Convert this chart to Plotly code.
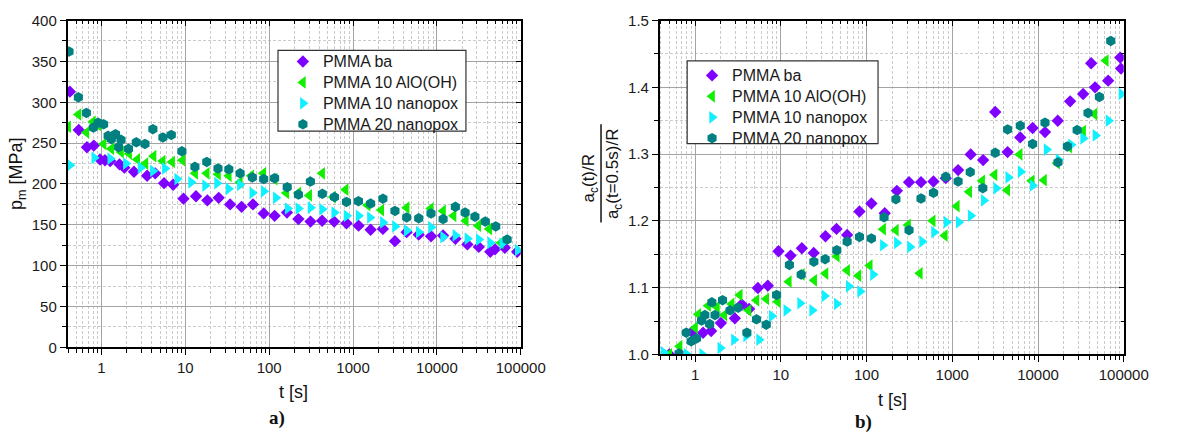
import math
import plotly.graph_objects as go

# ---------------- data (panel a: indentation pressure) ----------------
ba_t_a = [0.42, 0.535, 0.67, 0.81, 0.96, 1.1, 1.27, 1.64, 1.87, 2.44, 3.5, 4.37, 5.57, 7.15, 9.5,
          13.4, 18.3, 25, 34.2, 46.8, 64, 86, 116, 163, 223, 311, 428, 596, 836, 1164, 1620, 2270,
          3160, 4360, 6070, 8510, 11850, 16640, 23100, 31600, 43300, 49400, 64600, 90600]
ba_p_a = [313, 266, 245, 247, 230, 229, 228, 224, 220, 215, 210, 213, 201, 199, 182,
          185, 180, 183, 175, 172, 175, 164, 161, 165, 157, 154, 155, 154, 152, 149, 144, 145,
          130, 141, 138, 136, 137, 133, 126, 123, 117, 120, 122, 117]

alo_t_a = [0.40, 0.53, 0.66, 0.79, 0.92, 1.06, 1.31, 1.71, 2.14, 2.67, 3.34, 4.18, 5.37, 6.96, 9.2,
           13.1, 18, 24.5, 33, 44.7, 61, 85, 116, 160, 223, 300, 428, 580, 815, 1490,
           2170, 4360, 8440, 11850, 15800, 22100, 31100, 42000, 58000]
alo_p_a = [270, 285, 263, 276, 272, 249, 243, 239, 237, 230, 225, 234, 228, 227, 229,
           213, 213, 212, 210, 202, 210, 213, 206, 189, 189, 186, 213, 184, 193, 174,
           168, 171, 170, 167, 161, 155, 149, 145, 128]

n10_t_a = [0.42, 0.82, 1.27, 1.95, 2.92, 4.1, 5.7, 8.0, 11.7, 17.2, 23.9, 32.7, 44.7, 62.8, 86,
           120, 166, 223, 311, 428, 596, 836, 1164, 1590, 2270, 3160, 4370, 6070, 8510, 11850,
           16600, 23100, 31600, 43300, 60100, 92000]
n10_p_a = [223, 232, 231, 225, 220, 216, 219, 206, 202, 198, 201, 194, 199, 189, 191,
           183, 170, 170, 171, 169, 165, 161, 161, 159, 153, 148, 143, 141, 147, 135,
           137, 133, 132, 128, 127, 119]

n20_t_a = [0.41, 0.53, 0.66, 0.80, 0.91, 1.06, 1.20, 1.31, 1.47, 1.60, 1.71, 2.1, 2.6, 3.3, 4.1,
           5.4, 6.8, 9.1, 13, 18, 24.5, 33, 45, 63, 86, 116, 164, 223, 310, 430, 600, 835,
           1160, 1620, 2270, 3160, 4360, 6070, 8500, 11850, 16600, 21700, 28400, 37800, 50300, 68800]
n20_p_a = [362, 306, 287, 269, 275, 273, 259, 255, 261, 245, 254, 243, 251, 249, 267,
           257, 260, 240, 221, 227, 219, 218, 213, 208, 206, 207, 196, 187, 203, 188, 184, 178,
           179, 176, 182, 167, 159, 158, 164, 157, 172, 165, 160, 154, 148, 132]

# ---------------- data (panel b: normalised contact radius) ----------------
ba_t_b = [0.5, 0.92, 1.24, 1.54, 2.0, 2.91, 3.5, 4.27, 5.4, 7.06, 9.4, 13, 17.6, 24.2, 33.2,
          44.6, 59.4, 82.7, 114, 163, 226, 313, 432, 603, 840, 1170, 1640, 2290, 3170, 4420,
          6210, 8650, 12070, 17000, 23700, 33600, 41700, 46300, 65800, 91000, 93000]
ba_v_b = [1.0, 1.0335, 1.0325, 1.035, 1.047, 1.054, 1.075, 1.068, 1.0995, 1.103, 1.1545, 1.148,
          1.159, 1.152, 1.177, 1.188, 1.179, 1.214, 1.226, 1.2115, 1.245, 1.258, 1.258, 1.259,
          1.264, 1.276, 1.2995, 1.291, 1.363, 1.303, 1.325, 1.339, 1.333, 1.350, 1.379, 1.39,
          1.436, 1.4, 1.41, 1.4445, 1.428]

alo_t_b = [0.5, 0.66, 1.0, 1.09, 1.42, 1.8, 2.19, 2.67, 3.32, 4.2, 5.2, 6.77, 9.17, 12.4, 17.6,
           24.5, 33.2, 45, 59.4, 80.5, 109, 156, 220, 305, 418, 591, 819, 1130, 1574, 2233,
           3110, 4380, 6110, 8440, 11750, 16700, 23200, 33600, 45500, 61800]
alo_v_b = [1.0, 1.0124, 1.04, 1.060, 1.073, 1.071, 1.059, 1.0756, 1.089, 1.066, 1.081, 1.083,
           1.079, 1.109, 1.12, 1.111, 1.121, 1.147, 1.126, 1.118, 1.133, 1.1876, 1.186, 1.194,
           1.1215, 1.2, 1.178, 1.222, 1.2435, 1.26, 1.269, 1.246, 1.2995, 1.26, 1.261, 1.2866,
           1.3105, 1.3344, 1.36, 1.44]

n10_t_b = [0.43, 0.8, 1.21, 1.97, 2.84, 3.95, 5.58, 7.84, 11.6, 16.8, 23.2, 32.3, 45, 62, 84,
           119, 155, 226, 321, 444, 612, 855, 1190, 1640, 2330, 3250, 4500, 6270, 8650, 12600,
           17400, 24300, 33600, 46800, 66400, 94000]
n10_v_b = [1.003, 1.0, 1.0, 1.0096, 1.022, 1.0278, 1.022, 1.0574, 1.066, 1.0766, 1.066, 1.0876,
           1.0756, 1.102, 1.0943, 1.1196, 1.1635, 1.167, 1.161, 1.169, 1.183, 1.198, 1.198,
           1.2077, 1.2306, 1.2488, 1.265, 1.2737, 1.253, 1.3067, 1.2914, 1.3139, 1.3234, 1.328,
           1.35, 1.39]

n20_t_b = [0.65, 0.79, 0.9, 1.04, 1.19, 1.30, 1.48, 1.57, 1.71, 2.09, 2.56, 3.18, 4.02, 5.21, 6.77,
           8.93, 12.6, 17.3, 24.3, 32.9, 45, 59.4, 82.7, 114, 160, 220, 313, 432, 603, 840,
           1170, 1620, 2270, 3170, 4420, 6210, 8650, 12070, 17100, 22000, 28600, 38300, 52000, 70500]
n20_v_b = [1.0014, 1.0325, 1.0196, 1.024, 1.0507, 1.0589, 1.0455, 1.078, 1.0589, 1.0813, 1.066,
           1.07, 1.0325, 1.0526, 1.0445, 1.089, 1.134, 1.1196, 1.1388, 1.1426, 1.156, 1.169,
           1.176, 1.1737, 1.2053, 1.2325, 1.186, 1.2335, 1.242, 1.266, 1.259, 1.273, 1.249,
           1.302, 1.337, 1.3426, 1.3153, 1.347, 1.2876, 1.3115, 1.336, 1.3617, 1.3856, 1.4694]

series_names = ["PMMA ba", "PMMA 10 AlO(OH)", "PMMA 10 nanopox", "PMMA 20 nanopox"]
colors = ["#7F00FF", "#11EE00", "#11F0FF", "#008080"]
symbols = ["diamond", "triangle-left", "triangle-right", "hexagon"]
sizes = [9.5, 11, 11, 10.5]

x_tick_vals = [1, 10, 100, 1000, 10000, 100000]
x_tick_text = ["1", "10", "100", "1000", "10000", "100000"]

# ---------------- layout helpers ----------------
W, H = 1183, 440
FONT = "Liberation Sans, Arial, sans-serif"


def fx(px):
    return px / W


def fy(py):
    return 1 - py / H


def legend_label(s):
    return '<span style="font-size:16px">' + s + '</span>'


panel_a = [(ba_t_a, ba_p_a), (alo_t_a, alo_p_a), (n10_t_a, n10_p_a), (n20_t_a, n20_p_a)]
panel_b = [(ba_t_b, ba_v_b), (alo_t_b, alo_v_b), (n10_t_b, n10_v_b), (n20_t_b, n20_v_b)]

fig = go.Figure()
for i, (t, v) in enumerate(panel_a):
    fig.add_trace(go.Scatter(x=t, y=v, mode="markers", name=legend_label(series_names[i]),
                             marker=dict(symbol=symbols[i], size=sizes[i], color=colors[i],
                                         line=dict(width=0)),
                             xaxis="x", yaxis="y", legend="legend"))
for i, (t, v) in enumerate(panel_b):
    fig.add_trace(go.Scatter(x=t, y=v, mode="markers", name=legend_label(series_names[i]),
                             marker=dict(symbol=symbols[i], size=sizes[i], color=colors[i],
                                         line=dict(width=0)),
                             xaxis="x2", yaxis="y2", legend="legend2"))

# dummy traces so that the mirror-tick axes get drawn
for xa, ya in [("x3", "y"), ("x", "y3"), ("x4", "y2"), ("x2", "y4")]:
    fig.add_trace(go.Scatter(x=[None], y=[None], xaxis=xa, yaxis=ya, showlegend=False,
                             hoverinfo="skip"))

xr_a = [(69 - 103.7) / 85.7, 5]
xr_b = [(674 - 710) / 87.4, 5]

major_grid = "#a4a4a4"
minor_grid = "#cbcbcb"


def minor_spec(dt, inside=False):
    if inside:
        return dict(ticks="inside", ticklen=3, tickwidth=1, tickcolor="black", dtick=dt,
                    showgrid=False)
    return dict(ticks="outside", ticklen=3.5, tickwidth=1, tickcolor="black", dtick=dt,
                showgrid=True, gridcolor=minor_grid, griddash="3px,2px", gridwidth=1)


def base_axis(**kw):
    d = dict(showline=True, linecolor="black", linewidth=1.6, mirror=True,
             ticks="outside", ticklen=6, tickwidth=1.3, tickcolor="black",
             showgrid=True, gridcolor=major_grid, gridwidth=1, zeroline=False,
             tickfont=dict(family=FONT, size=15, color="#1a1a1a"))
    d.update(kw)
    return d


def mirror_axis(**kw):
    d = dict(showline=False, ticks="inside", ticklen=5, tickwidth=1.3, tickcolor="black",
             showgrid=False, zeroline=False, showticklabels=False)
    d.update(kw)
    return d


legend_common = dict(xanchor="left", yanchor="top", borderwidth=0,
                     bgcolor="rgba(0,0,0,0)", font=dict(family=FONT, size=13.8, color="#1a1a1a"),
                     itemwidth=30, tracegroupgap=0)

fig.update_layout(
    width=W, height=H, margin=dict(l=0, r=0, t=0, b=0),
    paper_bgcolor="white", plot_bgcolor="white",
    font=dict(family=FONT, color="#1a1a1a"),
    xaxis=base_axis(type="log", domain=[fx(69), fx(532)], range=xr_a, anchor="y",
                    tickvals=x_tick_vals, ticktext=x_tick_text, minor=minor_spec("D1")),
    yaxis=base_axis(domain=[fy(352), fy(12)], range=[0, 400], dtick=50, anchor="x",
                    minor=minor_spec(25)),
    xaxis2=base_axis(type="log", domain=[fx(674), fx(1148)], range=xr_b, anchor="y2",
                     tickvals=x_tick_vals, ticktext=x_tick_text, minor=minor_spec("D1")),
    yaxis2=base_axis(domain=[fy(359.3), fy(12)], range=[1.0, 1.5], dtick=0.1, tickformat=".1f",
                     anchor="x2", minor=minor_spec(0.05)),
    xaxis3=mirror_axis(type="log", overlaying="x", anchor="y", side="top", range=xr_a,
                       tickvals=x_tick_vals, minor=minor_spec("D1", True)),
    yaxis3=mirror_axis(overlaying="y", anchor="x", side="right", range=[0, 400], dtick=50,
                       minor=minor_spec(25, True)),
    xaxis4=mirror_axis(type="log", overlaying="x2", anchor="y2", side="top", range=xr_b,
                       tickvals=x_tick_vals, minor=minor_spec("D1", True)),
    yaxis4=mirror_axis(overlaying="y2", anchor="x2", side="right", range=[1.0, 1.5], dtick=0.1,
                       minor=minor_spec(0.05, True)),
    legend=dict(x=fx(289), y=fy(38.5), **legend_common),
    legend2=dict(x=fx(707), y=fy(53), **legend_common),
    showlegend=True,
)

# legend frames (white boxes with thin dark border)
for (x0, y0, x1, y1) in [(284, 43, 476, 127), (702, 54, 897, 140)]:
    fig.add_shape(type="rect", xref="paper", yref="paper",
                  x0=fx(x0), x1=fx(x1), y0=fy(y0), y1=fy(y1), layer="above",
                  fillcolor="white", line=dict(color="#333", width=1.2))

ann = [
    dict(text="t [s]", x=fx(300), y=fy(398), size=18, angle=0, family=FONT),
    dict(text="t [s]", x=fx(912), y=fy(407), size=18, angle=0, family=FONT),
    dict(text="p<sub>m</sub> [MPa]", x=fx(18), y=fy(171), size=18, angle=-90, family=FONT),
    dict(text="a<sub>c</sub>(t)/R", x=fx(603), y=fy(176), size=17, angle=-90, family=FONT),
    dict(text="a<sub>c</sub>(t=0.5s)/R", x=fx(628), y=fy(171), size=17, angle=-90, family=FONT),
    dict(text="<b>a)</b>", x=fx(283), y=fy(425), size=19, angle=0,
         family="Liberation Serif, Times New Roman, serif"),
    dict(text="<b>b)</b>", x=fx(882), y=fy(430), size=19, angle=0,
         family="Liberation Serif, Times New Roman, serif"),
]
for a in ann:
    fig.add_annotation(text=a["text"], x=a["x"], y=a["y"], xref="paper", yref="paper",
                       xanchor="center", yanchor="middle", showarrow=False,
                       textangle=a["angle"],
                       font=dict(family=a["family"], size=a["size"], color="#111"))

# fraction bar of the y-axis label of panel b
fig.add_shape(type="line", xref="paper", yref="paper",
              x0=fx(614), x1=fx(614), y0=fy(120), y1=fy(222),
              line=dict(color="#111", width=1.5))

fig.write_html("out.html",
               config={"displayModeBar": False},
               post_script="document.body.style.margin='0px';"
                           "document.body.style.overflow='hidden';")
